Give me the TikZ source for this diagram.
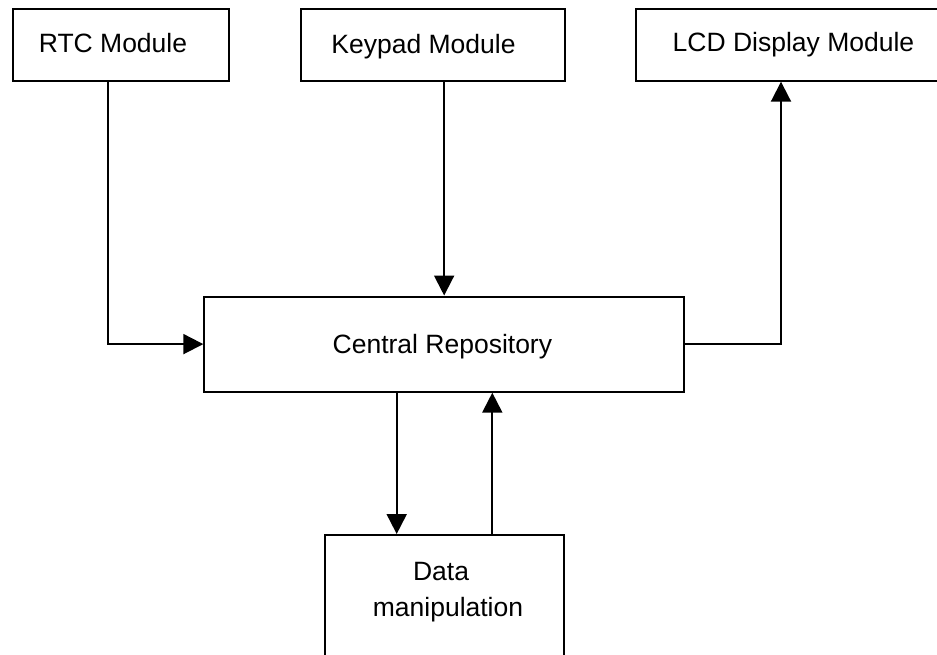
\documentclass[tikz,border=0pt]{standalone}
\usepackage{fontspec}
\setmainfont{Liberation Sans}
\usetikzlibrary{arrows.meta,calc}

\tikzset{
  box/.style={draw=black, line width=2pt, inner sep=0pt, fill=none},
  lbl/.style={anchor=base, inner sep=0pt, font=\fontsize{26.5}{32}\selectfont},
  flow/.style={draw=black, line width=2pt, -{Triangle[length=20pt,width=20pt]}},
}

\begin{document}
\begin{tikzpicture}[x=1pt, y=-1pt]
  % page frame
  \fill[white] (0,0) rectangle (937,654);
  \useasboundingbox (0,0) rectangle (937,654);

  % module boxes along the top
  \node[box, minimum width=216pt,   minimum height=71.7pt] (rtc) at (120.7,44.85) {};
  \node[box, minimum width=264.5pt, minimum height=71.7pt] (kp)  at (432.75,44.85) {};
  \node[box, minimum width=324pt,   minimum height=71.7pt] (lcd) at (798,44.85) {};

  % central repository and data manipulation
  \node[box, minimum width=479.7pt, minimum height=95.2pt] (central) at (444.15,344.1) {};
  \node[box, minimum width=239.6pt, minimum height=145pt]  (data)    at (444.5,607.5) {};

  % labels
  \node[lbl] (rtc-text) at (113,52.3)   {RTC Module};
  \node[lbl] (kp-text)  at (423.5,53.3) {Keypad Module};
  \node[lbl] (lcd-text) at (793.5,51.7) {LCD Display Module};
  \node[lbl] (central-text) at (442.4,353.3) {Central Repository};
  \node[lbl] (data-text1) at (441,580)   {Data};
  \node[lbl] (data-text2) at (448,616.7) {manipulation};

  % connectors
  \draw[flow] ([xshift=-12.4pt]rtc.south) |- (central.west);
  \draw[flow] (central.north |- kp.south) -- (central.north);
  \draw[flow] (central.east) -| ([xshift=-17pt]lcd.south);
  \draw[flow] ([xshift=-47.8pt]data.north |- central.south) -- ([xshift=-47.8pt]data.north);
  \draw[flow] ([xshift=47.8pt]data.north) -- ([xshift=47.8pt]data.north |- central.south);
\end{tikzpicture}
\end{document}
